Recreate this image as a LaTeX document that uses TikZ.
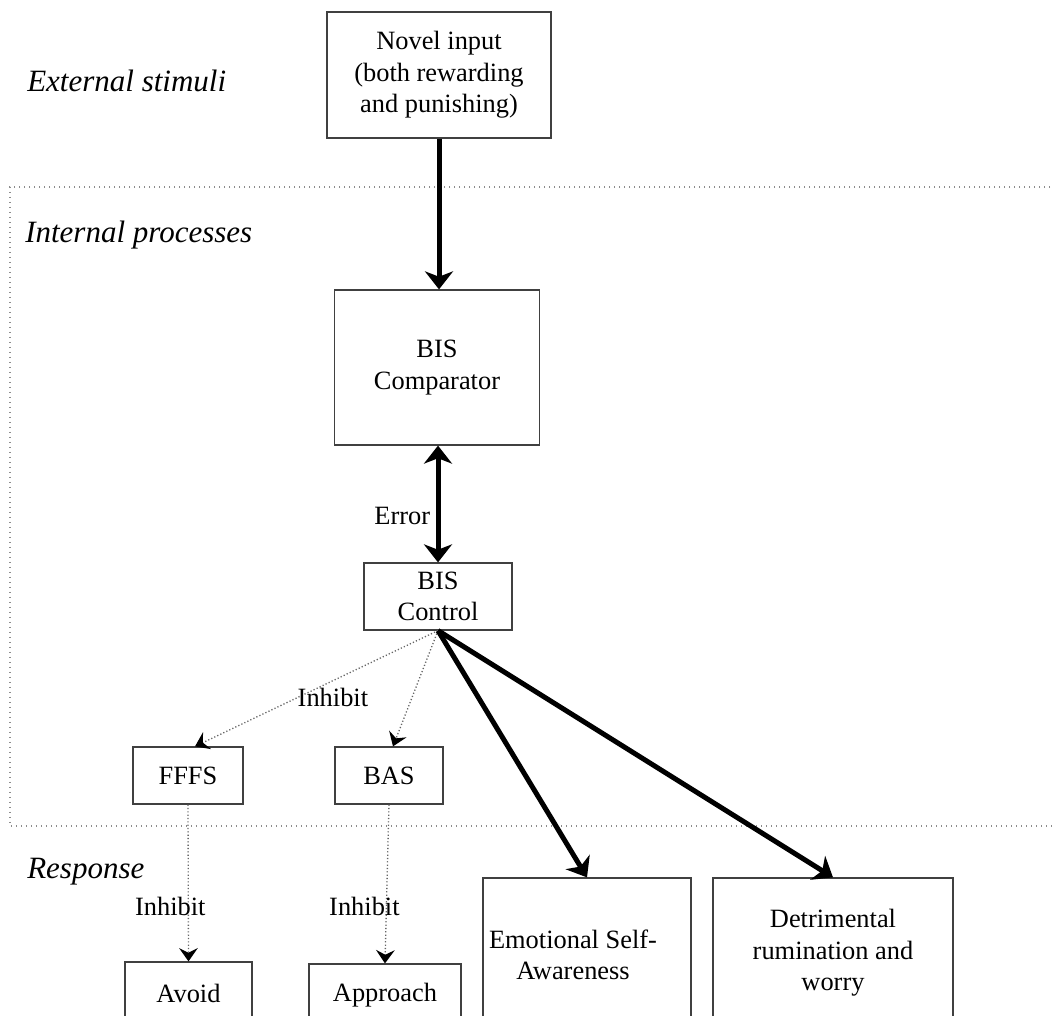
\documentclass[tikz,border=0pt]{standalone}
\usepackage{fontspec}
\setmainfont{Liberation Serif}
\usetikzlibrary{arrows.meta,calc}
\newcommand\diagbody{\fontsize{19.8}{23.6}\selectfont}
\newcommand\diagzone{\fontsize{23.25}{28}\selectfont\itshape}
\definecolor{boxline}{HTML}{404040}
\definecolor{frameline}{HTML}{8C8C8C}
\definecolor{dotline}{HTML}{666666}
\begin{document}
\begin{tikzpicture}[x=0.75pt,y=-0.75pt,
  box/.style={draw=boxline, line width=0.9pt, inner sep=0pt, align=center, font=\diagbody},
  zonelabel/.style={inner sep=0pt, font=\diagzone},
  edgelabel/.style={inner sep=0pt, text=black, font=\diagbody},
  heavy/.style={draw=black, line width=3.75pt,
    -{Stealth[length=13.5pt,width=21pt,inset=4pt]}},
  heavyboth/.style={draw=black, line width=3.75pt,
    {Stealth[length=13.5pt,width=21pt,inset=4pt]}-{Stealth[length=13.5pt,width=21pt,inset=4pt]}},
  dotlink/.style={draw=dotline, line width=1pt, dash pattern=on 0.9pt off 1.6pt,
    -{Stealth[length=10pt,width=14pt,inset=3.5pt,black]}},
  frame/.style={draw=frameline, line width=0.8pt, dash pattern=on 0.9pt off 2.85pt}]

\useasboundingbox (0,0) rectangle (1054,1016);
\clip (0,0) rectangle (1054,1016);

% zone frame for the internal processes
\draw[frame] (1060,187) -- (10,187) -- (10,826) -- (1060,826);

% zone titles
\node[zonelabel, anchor=base west] (ext)  at (27,92)  {External stimuli};
\node[zonelabel, anchor=base west] (intl) at (25,243) {Internal processes};
\node[zonelabel, anchor=base west] (resp) at (27,878) {Response};

% boxes
\node[box, minimum width=168pt, minimum height=94.5pt] (novel) at (439,75)
  {Novel input\\(both rewarding\\and punishing)};
\node[box, minimum width=153.75pt, minimum height=116.25pt] (comp) at (437,367.5)
  {BIS\\Comparator};
\node[box, minimum width=111pt, minimum height=50.25pt] (ctrl) at (438,596.5)
  {BIS\\Control};
\node[box, minimum width=82.5pt, minimum height=42.75pt] (fffs) at (188,775.5) {FFFS};
\node[box, minimum width=81pt, minimum height=42.75pt] (bas) at (389,775.5) {BAS};
\node[box, minimum width=95.25pt, minimum height=46.5pt] (avoid) at (188.5,993) {Avoid};
\node[box, minimum width=114pt, minimum height=46.5pt] (approach) at (385,995) {Approach};
\node[box, minimum width=156pt, minimum height=115.5pt] (emo) at (587,955)
  {Emotional Self-\rule{21pt}{0pt}\\Awareness\rule{21pt}{0pt}};
\node[box, minimum width=180pt, minimum height=112.5pt] (det) at (833,953)
  {Detrimental\\rumination and\\worry};

% connectors
\draw[heavy] (novel.south) -- (novel.south |- comp.north);
\draw[heavyboth] (comp.south -| ctrl.north) --
  node[pos=0.6, left, inner sep=4pt, text=black, font=\diagbody] (err) {Error} (ctrl.north);
\draw[dotlink] (ctrl.south) --
  node[pos=0.58, anchor=west, edgelabel] (inh1) {Inhibit} ($(fffs.north)+(7,0)$);
\draw[dotlink] (ctrl.south) -- ($(bas.north)+(4,0)$);
\draw[heavy] (ctrl.south) -- (emo.north);
\draw[heavy] (ctrl.south) -- (det.north);
\draw[dotlink] (fffs.south) --
  node[pos=0.65, xshift=-13.5pt, edgelabel] (inh2) {Inhibit} (avoid.north);
\draw[dotlink] (bas.south) --
  node[pos=0.64, xshift=-16.5pt, edgelabel] (inh3) {Inhibit} (approach.north);
\end{tikzpicture}
\end{document}
